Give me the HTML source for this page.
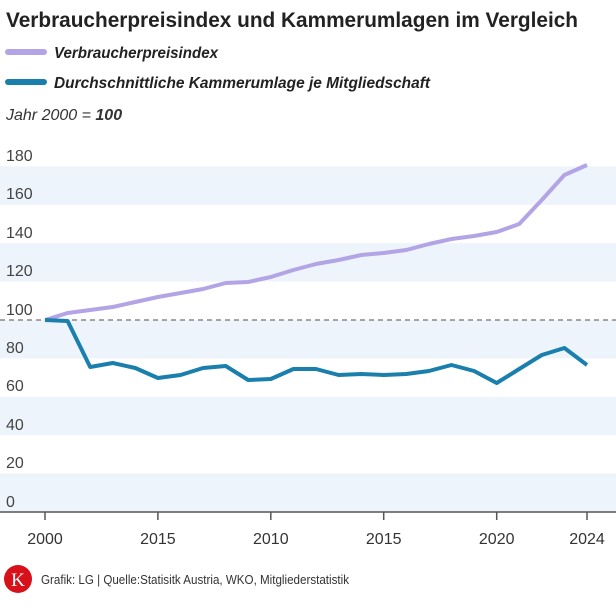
<!DOCTYPE html>
<html><head><meta charset="utf-8"><style>
body{margin:0;background:#fff;}
svg{display:block;font-family:"Liberation Sans",sans-serif;}
</style></head><body>
<svg width="616" height="608" viewBox="0 0 616 608" xmlns="http://www.w3.org/2000/svg">
<text x="6" y="27" font-size="21" font-weight="bold" fill="#222" textLength="572" lengthAdjust="spacingAndGlyphs">Verbraucherpreisindex und Kammerumlagen im Vergleich</text>
<line x1="8" y1="52" x2="44" y2="52" stroke="#b3a4e6" stroke-width="6" stroke-linecap="round"/>
<text x="54" y="58" font-size="16" font-style="italic" font-weight="bold" fill="#222" textLength="164" lengthAdjust="spacingAndGlyphs">Verbraucherpreisindex</text>
<line x1="8" y1="82" x2="44" y2="82" stroke="#1a7fad" stroke-width="6" stroke-linecap="round"/>
<text x="54" y="88" font-size="16" font-style="italic" font-weight="bold" fill="#222" textLength="376" lengthAdjust="spacingAndGlyphs">Durchschnittliche Kammerumlage je Mitgliedschaft</text>
<text x="6" y="120" font-size="16" font-style="italic" fill="#333">Jahr 2000 = <tspan font-weight="bold">100</tspan></text>
<g fill="#eef4fb">
<rect x="0" y="166.4" width="616" height="38.4"/>
<rect x="0" y="243.2" width="616" height="38.4"/>
<rect x="0" y="320" width="616" height="38.4"/>
<rect x="0" y="396.8" width="616" height="38.4"/>
<rect x="0" y="473.6" width="616" height="38.4"/>
</g>
<g font-size="16" fill="#444">
<text x="6" y="161">180</text><text x="6" y="199">160</text><text x="6" y="238">140</text>
<text x="6" y="276">120</text><text x="6" y="315">100</text><text x="6" y="353">80</text>
<text x="6" y="391">60</text><text x="6" y="430">40</text><text x="6" y="468">20</text>
<text x="6" y="507">0</text>
</g>
<line x1="0" y1="320" x2="616" y2="320" stroke="#888" stroke-width="1.5" stroke-dasharray="5,4"/>
<line x1="0" y1="512" x2="616" y2="512" stroke="#555" stroke-width="1.5"/>
<g stroke="#555" stroke-width="1.5">
<line x1="45" y1="512" x2="45" y2="520"/><line x1="157.9" y1="512" x2="157.9" y2="520"/>
<line x1="270.8" y1="512" x2="270.8" y2="520"/><line x1="383.7" y1="512" x2="383.7" y2="520"/>
<line x1="496.7" y1="512" x2="496.7" y2="520"/><line x1="587" y1="512" x2="587" y2="520"/>
</g>
<g font-size="16" fill="#333" text-anchor="middle">
<text x="45" y="544">2000</text><text x="157.9" y="544">2015</text><text x="270.8" y="544">2010</text>
<text x="383.7" y="544">2015</text><text x="496.7" y="544">2020</text><text x="587" y="544">2024</text>
</g>
<polyline fill="none" stroke="#b3a4e6" stroke-width="4" stroke-linejoin="round" points="45,320 67.6,313 90.2,310 112.7,307 135.3,302 157.9,297 180.5,293 203.1,289 225.7,283 248.2,282 270.8,277 293.4,270 316,264 338.6,260 361.2,255 383.7,253 406.3,250 428.9,244 451.5,239 474.1,236 496.7,232 519.2,224 541.8,200 564.4,175 587,165"/>
<polyline fill="none" stroke="#1a7fad" stroke-width="4" stroke-linejoin="round" points="45,320 67.6,321 90.2,367 112.7,363 135.3,368 157.9,378 180.5,375 203.1,368 225.7,366 248.2,380 270.8,379 293.4,369 316,369 338.6,375 361.2,374 383.7,375 406.3,374 428.9,371 451.5,365 474.1,371 496.7,383 519.2,369 541.8,355 564.4,348 587,365"/>
<circle cx="18" cy="579" r="14" fill="#d7101a"/>
<text x="18" y="586" font-size="19" fill="#fff" text-anchor="middle" font-family="Liberation Serif,serif">K</text>
<text x="41" y="584" font-size="13" fill="#333" textLength="308" lengthAdjust="spacingAndGlyphs">Grafik: LG | Quelle:Statisitk Austria, WKO, Mitgliederstatistik</text>
</svg>
</body></html>
